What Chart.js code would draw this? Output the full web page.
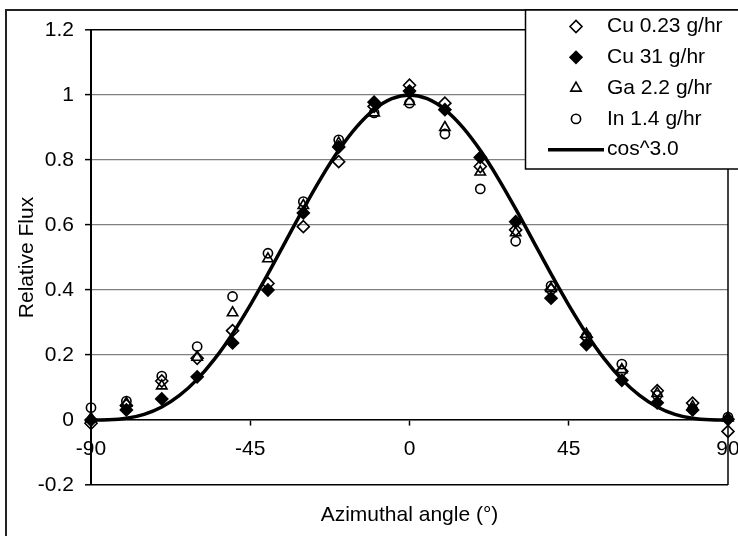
<!DOCTYPE html>
<html>
<head>
<meta charset="utf-8">
<title>Relative Flux vs Azimuthal angle</title>
<script src="https://cdn.jsdelivr.net/npm/chart.js@4.4.1/dist/chart.umd.min.js"></script>
<style>
  html, body { margin: 0; padding: 0; background: #fff; overflow: hidden; }
  #wrap { width: 738px; height: 536px; position: relative; }
  canvas { display: block; }
</style>
</head>
<body>
<div id="wrap"><canvas id="flux" width="738" height="536"></canvas></div>
<script>
// Measurement angles (degrees)
const angles = [-90, -80, -70, -60, -50, -40, -30, -20, -10, 0, 10, 20, 30, 40, 50, 60, 70, 80, 90];

// Relative flux per source
const cuLow  = [-0.01, 0.045, 0.12, 0.19, 0.275, 0.42, 0.595, 0.795, 0.965, 1.03, 0.975, 0.78, 0.585, 0.40, 0.255, 0.15, 0.09, 0.052, -0.035];
const cuHigh = [0.0, 0.031, 0.065, 0.133, 0.237, 0.40, 0.637, 0.84, 0.978, 1.012, 0.955, 0.808, 0.61, 0.375, 0.232, 0.122, 0.053, 0.031, 0.002];
const gaFlux = [0.005, 0.052, 0.105, 0.193, 0.33, 0.496, 0.66, 0.852, 0.945, 0.98, 0.90, 0.763, 0.576, 0.405, 0.264, 0.155, 0.082, 0.041, 0.006];
const inFlux = [0.038, 0.058, 0.135, 0.226, 0.38, 0.513, 0.672, 0.862, 0.945, 0.975, 0.88, 0.711, 0.55, 0.413, 0.258, 0.172, 0.076, 0.034, 0.009];

// cos^3 reference curve, sampled every 5 degrees
const curveAngles = [-90, -85, -80, -75, -70, -65, -60, -55, -50, -45, -40, -35, -30, -25, -20, -15, -10, -5, 0,
                     5, 10, 15, 20, 25, 30, 35, 40, 45, 50, 55, 60, 65, 70, 75, 80, 85, 90];
const curveFlux = [0, 0.0007, 0.0052, 0.0173, 0.0400, 0.0755, 0.125, 0.1887, 0.2656, 0.3536, 0.4495, 0.5497, 0.6495, 0.7444, 0.8298, 0.9012, 0.9551, 0.9886, 1,
                   0.9886, 0.9551, 0.9012, 0.8298, 0.7444, 0.6495, 0.5497, 0.4495, 0.3536, 0.2656, 0.1887, 0.125, 0.0755, 0.0400, 0.0173, 0.0052, 0.0007, 0];

// Axis ticks
const xTicks = [-90, -45, 0, 45, 90];
const yTicks = [-0.2, 0, 0.2, 0.4, 0.6, 0.8, 1, 1.2];

const seriesLabels = ['Cu 0.23 g/hr', 'Cu 31 g/hr', 'Ga 2.2 g/hr', 'In 1.4 g/hr', 'cos^3.0'];

const FONT = "'Liberation Sans', Arial, Helvetica, sans-serif";
const FONT_SIZE = 21;
Chart.defaults.font.family = FONT;
Chart.defaults.font.size = FONT_SIZE;
Chart.defaults.color = '#000';

const pts = (ys) => angles.map((a, i) => ({ x: a, y: ys[i] }));

// White page with the outer chart frame
const framePlugin = {
  id: 'frame',
  beforeDraw(chart) {
    const ctx = chart.ctx;
    ctx.save();
    ctx.fillStyle = '#fff';
    ctx.fillRect(0, 0, chart.width, chart.height);
    ctx.strokeStyle = '#222';
    ctx.lineWidth = 2;
    ctx.beginPath();
    ctx.moveTo(6, chart.height + 2);
    ctx.lineTo(6, 10);
    ctx.lineTo(chart.width + 2, 10);
    ctx.stroke();
    ctx.restore();
  }
};

// Right edge of the plot area
const plotBorderPlugin = {
  id: 'plotBorder',
  beforeDatasetsDraw(chart) {
    const { ctx, chartArea } = chart;
    ctx.save();
    ctx.strokeStyle = '#000';
    ctx.lineWidth = 1.5;
    ctx.beginPath();
    ctx.moveTo(chartArea.right, chartArea.top);
    ctx.lineTo(chartArea.right, chartArea.bottom);
    ctx.stroke();
    ctx.restore();
  }
};

// Boxed legend in the top-right corner
const boxLegendPlugin = {
  id: 'boxLegend',
  afterDraw(chart) {
    const ctx = chart.ctx;
    const left = 525.5, top = 10, bottom = 169;
    ctx.save();
    ctx.fillStyle = '#fff';
    ctx.fillRect(left, top, chart.width - left + 5, bottom - top);
    ctx.strokeStyle = '#000';
    ctx.lineWidth = 1.5;
    ctx.strokeRect(left, top, chart.width - left + 10, bottom - top);

    const markerX = 576, textX = 607;
    chart.data.datasets.forEach((ds, i) => {
      const y = 26.5 + i * 30.8;
      if (ds.pointRadius === 0) {
        ctx.strokeStyle = ds.borderColor;
        ctx.lineWidth = ds.borderWidth;
        ctx.beginPath();
        ctx.moveTo(548, y);
        ctx.lineTo(604, y);
        ctx.stroke();
      } else {
        ctx.strokeStyle = ds.pointBorderColor;
        ctx.fillStyle = ds.pointBackgroundColor;
        ctx.lineWidth = ds.pointBorderWidth;
        Chart.helpers.drawPoint(ctx, {
          pointStyle: ds.pointStyle,
          radius: ds.pointRadius,
          borderWidth: ds.pointBorderWidth,
          rotation: 0
        }, markerX, y);
      }
      ctx.fillStyle = '#000';
      ctx.font = FONT_SIZE + 'px ' + FONT;
      ctx.textAlign = 'left';
      ctx.textBaseline = 'middle';
      ctx.fillText(ds.label, textX, y);
    });
    ctx.restore();
  }
};

function markerSet(label, ys, style, radius, filled, order) {
  return {
    label,
    data: pts(ys),
    showLine: false,
    pointStyle: style,
    pointRadius: radius,
    pointHoverRadius: radius,
    pointBorderWidth: 1.6,
    pointBorderColor: '#000',
    pointBackgroundColor: filled ? '#000' : 'rgba(0,0,0,0)',
    borderColor: '#000',
    backgroundColor: filled ? '#000' : 'rgba(0,0,0,0)',
    clip: false,
    order
  };
}

const datasets = [
  markerSet(seriesLabels[0], cuLow, 'rectRot', 6, false, 4),
  markerSet(seriesLabels[1], cuHigh, 'rectRot', 6, true, 3),
  markerSet(seriesLabels[2], gaFlux, 'triangle', 6, false, 2),
  markerSet(seriesLabels[3], inFlux, 'circle', 4.6, false, 1),
  {
    label: seriesLabels[4],
    data: curveAngles.map((a, i) => ({ x: a, y: curveFlux[i] })),
    showLine: true,
    borderColor: '#000',
    borderWidth: 3.5,
    pointRadius: 0,
    pointHoverRadius: 0,
    cubicInterpolationMode: 'monotone',
    fill: false,
    clip: false,
    order: 0
  }
];

const edgeValue = (v) => Math.abs(v - 1.2) < 1e-9 || Math.abs(v + 0.2) < 1e-9;

new Chart(document.getElementById('flux'), {
  type: 'scatter',
  data: { datasets },
  plugins: [framePlugin, plotBorderPlugin, boxLegendPlugin],
  options: {
    responsive: false,
    devicePixelRatio: 1,
    animation: false,
    events: [],
    layout: { padding: { left: 0, top: 30, right: 10, bottom: 51 } },
    plugins: {
      legend: { display: false },
      title: { display: false },
      tooltip: { enabled: false }
    },
    scales: {
      x: {
        type: 'linear',
        min: -90,
        max: 90,
        position: { y: 0 },
        afterBuildTicks: (scale) => { scale.ticks = xTicks.map(v => ({ value: v })); },
        afterFit: (scale) => { scale.paddingLeft = 0; scale.paddingRight = 0; },
        ticks: {
          autoSkip: false,
          maxRotation: 0,
          minRotation: 0,
          padding: 12,
          color: '#000',
          font: { size: FONT_SIZE },
          callback: (v) => String(v)
        },
        grid: {
          drawOnChartArea: false,
          drawTicks: true,
          tickLength: 5,
          tickColor: '#000',
          tickWidth: 1.5
        },
        border: { display: true, color: '#000', width: 1.6 },
        title: {
          display: true,
          text: 'Azimuthal angle (°)',
          color: '#000',
          font: { size: FONT_SIZE },
          padding: { top: 28, bottom: 0 }
        }
      },
      y: {
        type: 'linear',
        min: -0.2,
        max: 1.2,
        position: 'left',
        afterBuildTicks: (scale) => { scale.ticks = yTicks.map(v => ({ value: v })); },
        afterFit: (scale) => { scale.width = 91; },
        ticks: {
          padding: 11,
          color: '#000',
          font: { size: FONT_SIZE },
          callback: (v) => String(Math.round(v * 10) / 10)
        },
        grid: {
          drawTicks: true,
          tickLength: 6,
          tickColor: '#000',
          tickWidth: 1.5,
          color: (c) => (c.tick && edgeValue(c.tick.value)) ? '#000' : '#808080',
          lineWidth: (c) => (c.tick && edgeValue(c.tick.value)) ? 1.6 : 1.2
        },
        border: { display: true, color: '#000', width: 2 },
        title: {
          display: true,
          text: 'Relative Flux',
          color: '#000',
          font: { size: FONT_SIZE },
          padding: { top: 15, bottom: 0 }
        }
      }
    }
  }
});
</script>
</body>
</html>
